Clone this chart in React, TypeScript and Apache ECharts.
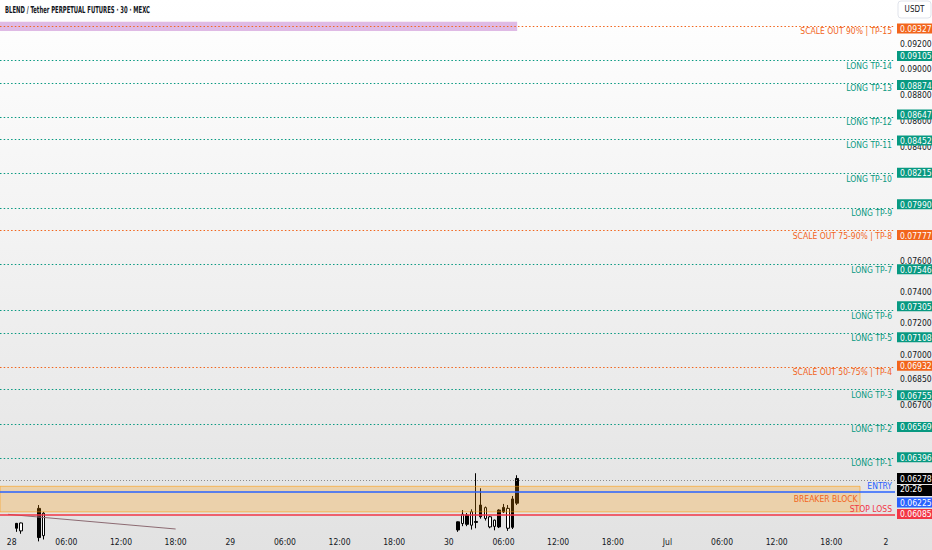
import React, { useEffect, useRef } from 'react';
import * as echarts from 'echarts';

const FONT = "'DejaVu Sans Condensed', 'Roboto', sans-serif";

const chartTitle = 'BLEND / Tether PERPETUAL FUTURES · 30 · MEXC';
const quoteCurrency = 'USDT';

// time axis, hours since 28 Jun 00:00
const timeTickHours = [0, 6, 12, 18, 24, 30, 36, 42, 48, 54, 60, 66, 72, 78, 84, 90, 96];
const timeTickLabels = ['28', '06:00', '12:00', '18:00', '29', '06:00', '12:00', '18:00', '30', '06:00', '12:00', '18:00', 'Jul', '06:00', '12:00', '18:00', '2'];

// plain price-scale labels
const priceTicks = [0.092, 0.09, 0.088, 0.086, 0.084, 0.076, 0.074, 0.072, 0.07, 0.0685, 0.067];

// 30-minute candles (only the visible ones)
const candleHours = [0.5, 1, 3, 3.5, 49, 49.5, 50, 50.5, 51, 51.5, 52, 52.5, 53, 53.5, 54, 54.5, 55, 55.5];
const candleOpen = [0.06009, 0.06037, 0.0596, 0.06089, 0.06, 0.06083, 0.0603, 0.06097, 0.0604, 0.0607, 0.06119, 0.0607, 0.06052, 0.06016, 0.06096, 0.06115, 0.06014, 0.06143];
const candleClose = [0.06035, 0.05995, 0.06115, 0.0597, 0.06043, 0.06034, 0.06079, 0.06025, 0.06045, 0.06133, 0.06061, 0.06016, 0.06019, 0.06106, 0.0612, 0.06009, 0.06166, 0.06278];
const candleLow = [0.0599, 0.0598, 0.0594, 0.0595, 0.0599, 0.0602, 0.0602, 0.06002, 0.06009, 0.0606, 0.0605, 0.06009, 0.05998, 0.0601, 0.0609, 0.05995, 0.06005, 0.06133];
const candleHigh = [0.06037, 0.06039, 0.06133, 0.06096, 0.06045, 0.06106, 0.0609, 0.0611, 0.06307, 0.06224, 0.06125, 0.06075, 0.06055, 0.0611, 0.06139, 0.06133, 0.06182, 0.06296];

// levels
const targetPrices = [0.09105, 0.08874, 0.08647, 0.08452, 0.08215, 0.0799, 0.07546, 0.07305, 0.07108, 0.06755, 0.06569, 0.06396];
const targetNames = ['LONG TP-14', 'LONG TP-13', 'LONG TP-12', 'LONG TP-11', 'LONG TP-10', 'LONG TP-9', 'LONG TP-7', 'LONG TP-6', 'LONG TP-5', 'LONG TP-3', 'LONG TP-2', 'LONG TP-1'];
const scaleOutPrices = [0.09327, 0.07777, 0.06932];
const scaleOutNames = ['SCALE OUT 90% | TP-15', 'SCALE OUT 75-90% | TP-8', 'SCALE OUT 50-75% | TP-4'];
const entryPrice = 0.06225;
const stopPrice = 0.06085;
const lastPrice = 0.06278;
const barCountdown = '20:26';

// zones & drawings
const breakerBlockPrices = [0.06096, 0.06235];
const breakerBlockEndHour = 93.15;
const topZonePrices = [0.09306, 0.09383];
const topZoneEndHour = 55.5;
const trendLineHours = [-0.4, 18];
const trendLinePrices = [0.06083, 0.06005];

const xRange = [-1.285, 96.99];
const yRange = [0.059945, 0.095638];

const GREEN = '#089981';
const ORANGE = '#f2651c';
const BLUE = '#2962ff';
const RED = '#f23645';
const TEXT = '#131722';

// the price scale is logarithmic: values are placed on a value axis in ln(price)
const L = (p: number) => Math.log(p);

function tagStyle(bg: string) {
  return {
    backgroundColor: bg,
    color: '#ffffff',
    fontSize: 8.5,
    fontFamily: FONT,
    lineHeight: 11,
    padding: [1, 3, 0, 3],
    width: 30,
    align: 'left',
  };
}

function nearest(values: number[], v: number) {
  let best = 0;
  values.forEach((tv, i) => {
    if (Math.abs(tv - v) < Math.abs(values[best] - v)) best = i;
  });
  return best;
}

function buildOption(): any {
  const candles = candleHours.map((h, i) => [h, L(candleOpen[i]), L(candleClose[i]), L(candleLow[i]), L(candleHigh[i])]);

  const levelLines: any[] = [];
  targetPrices.forEach((p, i) => {
    levelLines.push({
      yAxis: L(p),
      lineStyle: { color: GREEN, type: [1.5, 2.2], width: 1.2 },
      label: { formatter: targetNames[i], color: GREEN },
    });
  });
  scaleOutPrices.forEach((p, i) => {
    levelLines.push({
      yAxis: L(p),
      lineStyle: { color: ORANGE, type: [1.5, 2.2], width: 1.2 },
      label: { formatter: scaleOutNames[i], color: ORANGE },
    });
  });
  levelLines.push({
    yAxis: L(lastPrice),
    lineStyle: { color: '#8a8a8a', type: [1, 2], width: 1 },
    label: { show: false },
  });
  levelLines.push({
    yAxis: L(entryPrice),
    lineStyle: { color: BLUE, type: 'solid', width: 1.5 },
    label: { formatter: 'ENTRY', color: BLUE, position: 'insideEndTop' },
  });
  levelLines.push({
    yAxis: L(stopPrice),
    lineStyle: { color: RED, type: 'solid', width: 1.5 },
    label: { formatter: 'STOP LOSS', color: RED, position: 'insideEndTop' },
  });

  // coloured price tags on the scale
  const tagPrices = [...targetPrices, ...scaleOutPrices, stopPrice];
  const tagKinds = [...targetPrices.map(() => 'g'), ...scaleOutPrices.map(() => 'o'), 'r'];
  const tagValues = tagPrices.map(L);
  const tagFormatter = (v: number) => {
    const i = nearest(tagValues, v);
    return `{${tagKinds[i]}|${tagPrices[i].toFixed(5)}}`;
  };
  const priceTickValues = priceTicks.map(L);
  const priceTickFormatter = (v: number) => priceTicks[nearest(priceTickValues, v)].toFixed(5);

  const hiddenAxis = {
    axisLine: { show: false },
    axisTick: { show: false },
    splitLine: { show: false },
  };
  const yBase = {
    type: 'value',
    position: 'right',
    min: L(yRange[0]),
    max: L(yRange[1]),
    scale: true,
    ...hiddenAxis,
  };

  return {
    animation: false,
    backgroundColor: 'transparent',
    grid: { left: 0, right: 37, top: 0, bottom: 19, containLabel: false, outerBoundsMode: 'none' },
    xAxis: {
      type: 'value',
      min: xRange[0],
      max: xRange[1],
      ...hiddenAxis,
      axisLabel: {
        customValues: timeTickHours,
        formatter: (v: number) => {
          const i = timeTickHours.indexOf(v);
          return i >= 0 ? timeTickLabels[i] : '';
        },
        color: TEXT,
        fontSize: 8.5,
        fontFamily: FONT,
        margin: 6,
      },
    },
    yAxis: [
      {
        ...yBase,
        z: 3,
        axisLabel: {
          customValues: priceTickValues,
          formatter: priceTickFormatter,
          color: TEXT,
          fontSize: 8.5,
          fontFamily: FONT,
          margin: 5,
          align: 'left',
        },
      },
      {
        ...yBase,
        z: 8,
        axisLabel: {
          customValues: tagValues,
          formatter: tagFormatter,
          margin: 2,
          align: 'left',
          rich: { g: tagStyle(GREEN), o: tagStyle(ORANGE), r: tagStyle(RED) },
        },
      },
      {
        ...yBase,
        z: 9,
        axisLabel: {
          customValues: [L(entryPrice)],
          formatter: () => `{gap| }\n{b|${entryPrice.toFixed(5)}}`,
          margin: 2,
          align: 'left',
          rich: { gap: { height: 29, lineHeight: 29, fontSize: 2 }, b: tagStyle(BLUE) },
        },
      },
      {
        ...yBase,
        z: 10,
        axisLabel: {
          customValues: [L(lastPrice)],
          formatter: () => `{gap| }\n{k|${lastPrice.toFixed(5)}}\n{t|${barCountdown}}`,
          margin: 2,
          align: 'left',
          rich: {
            gap: { height: 12, lineHeight: 12, fontSize: 2 },
            k: { ...tagStyle('#000000'), lineHeight: 12, padding: [2, 3, 0, 3] },
            t: { ...tagStyle('#000000'), lineHeight: 12, padding: [0, 3, 2, 3] },
          },
        },
      },
    ],
    graphic: [
      {
        type: 'text',
        x: 5,
        y: 10,
        scaleX: 0.62,
        style: { text: chartTitle, fill: TEXT, fontSize: 9.5, fontFamily: FONT, fontWeight: 'bold', verticalAlign: 'middle' },
        z: 20,
      },
      {
        type: 'rect',
        shape: { x: 898, y: 1, width: 33, height: 17, r: 3 },
        style: { fill: '#ffffff', stroke: '#e0e3eb', lineWidth: 1 },
        z: 20,
      },
      {
        type: 'text',
        x: 914.5,
        y: 9.5,
        style: { text: quoteCurrency, fill: TEXT, fontSize: 8, fontFamily: FONT, align: 'center', verticalAlign: 'middle' },
        z: 21,
      },
    ],
    series: [
      {
        type: 'candlestick',
        data: candles,
        barWidth: 3,
        clip: true,
        z: 2,
        itemStyle: { color: '#000000', color0: '#ffffff', borderColor: '#000000', borderColor0: '#000000', borderWidth: 1 },
      },
      {
        type: 'line',
        data: trendLineHours.map((h, i) => [h, L(trendLinePrices[i])]),
        symbol: 'none',
        clip: true,
        z: 3,
        lineStyle: { color: '#8c6a72', width: 1 },
      },
      {
        type: 'line',
        data: [],
        markArea: {
          z: 4,
          silent: true,
          data: [
            [
              {
                xAxis: xRange[0],
                yAxis: L(breakerBlockPrices[1]),
                itemStyle: { color: 'rgba(255,152,0,0.25)', borderColor: 'rgba(255,152,0,0.55)', borderWidth: 1 },
                label: { show: true, formatter: 'BREAKER BLOCK', position: 'insideRight', distance: 3, color: ORANGE, fontSize: 8.5, fontFamily: FONT },
              },
              { xAxis: breakerBlockEndHour, yAxis: L(breakerBlockPrices[0]) },
            ],
            [
              {
                xAxis: xRange[0],
                yAxis: L(topZonePrices[1]),
                itemStyle: { color: 'rgba(186,104,200,0.45)', borderWidth: 0 },
                label: { show: false },
              },
              { xAxis: topZoneEndHour, yAxis: L(topZonePrices[0]) },
            ],
          ],
        },
      },
      {
        type: 'line',
        data: [],
        markLine: {
          z: 6,
          silent: true,
          symbol: ['none', 'none'],
          label: { show: true, position: 'insideEndBottom', distance: [3, 1], fontSize: 8.5, fontFamily: FONT },
          data: levelLines,
        },
      },
    ],
  };
}

export default function App() {
  const ref = useRef<HTMLDivElement>(null);
  useEffect(() => {
    document.body.style.margin = '0';
    const chart = echarts.init(ref.current as HTMLDivElement, null, { renderer: 'svg', width: 932, height: 550 });
    chart.setOption(buildOption());
    return () => {
      chart.dispose();
    };
  }, []);
  return (
    <div
      ref={ref}
      style={{ width: 932, height: 550, background: 'linear-gradient(#ffffff, #e2e2e2)' }}
    />
  );
}
